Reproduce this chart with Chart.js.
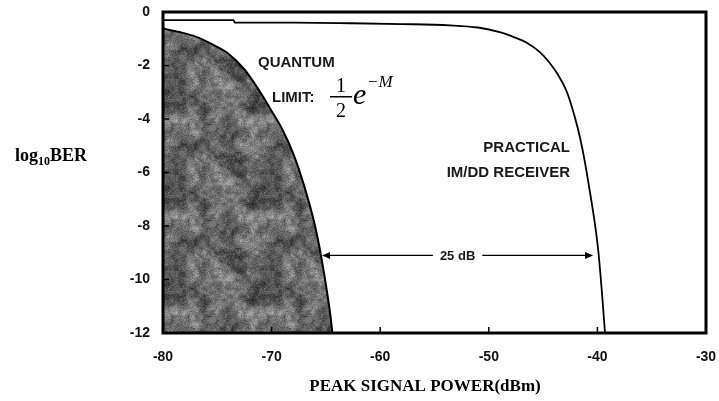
<!DOCTYPE html>
<html>
<head>
<meta charset="utf-8">
<script src="https://cdn.jsdelivr.net/npm/chart.js@4.4.1/dist/chart.umd.min.js"></script>
<style>
  html, body { margin: 0; padding: 0; background: #fff; }
  canvas { display: block; }
</style>
</head>
<body>
<canvas id="berChart" width="719" height="401"></canvas>
<script>
// Axis ticks
const powerTicks = [-80, -70, -60, -50, -40, -30];
const berTicks = [0, -2, -4, -6, -8, -10, -12];

// Quantum limit curve (shaded to the left)
const quantumPower  = [-80, -78.5, -77, -75.5, -74, -72.5, -71.2, -70, -69, -68, -67, -66, -65.5, -65, -64.6, -64.4];
const quantumLogBer = [-0.62, -0.75, -0.92, -1.2, -1.55, -2.15, -2.9, -3.7, -4.4, -5.3, -6.5, -8.0, -9.0, -10.2, -11.3, -12];

// Practical IM/DD receiver curve
const practicalPower  = [-80, -73.5, -73.4, -68, -62.8, -58, -53.6, -51, -49, -47.8, -46.5, -45.3, -44.5, -43.7, -42.8, -42.1, -41.6, -41.2, -40.7, -40.2, -39.9, -39.6, -39.3];
const practicalLogBer = [-0.3, -0.3, -0.4, -0.4, -0.42, -0.45, -0.5, -0.58, -0.75, -0.92, -1.15, -1.5, -1.85, -2.3, -3.0, -3.9, -4.7, -5.5, -6.7, -8.0, -9.0, -10.4, -12];

// 25 dB gap marker
const gapPower = [-65.35, -40.4];
const gapLogBer = -9.1;
const gapLabel = '25 dB';

const toPoints = (xs, ys) => xs.map((x, i) => ({ x: x, y: ys[i] }));

// mottled grey texture for the quantum-limit region
function mottledPattern(ctx) {
    const size = 96;
    const c = document.createElement('canvas');
    c.width = c.height = size;
    const g = c.getContext('2d');
    const img = g.createImageData(size, size);
    const hash = (x, y, s) => {
        let h = (x * 73856093) ^ (y * 19349663) ^ (s * 83492791);
        h = Math.imul(h ^ (h >>> 13), 1274126177);
        h ^= h >>> 16;
        return (h >>> 0) / 4294967296;
    };
    const smooth = (x, y, cell, s) => {
        const n = size / cell;
        const gx = x / cell, gy = y / cell;
        const x0 = Math.floor(gx), y0 = Math.floor(gy);
        const fx = gx - x0, fy = gy - y0;
        const v = (i, j) => hash(i % n, j % n, s);
        const a = v(x0, y0), b = v(x0 + 1, y0), cc = v(x0, y0 + 1), d = v(x0 + 1, y0 + 1);
        const top = a + (b - a) * fx, bot = cc + (d - cc) * fx;
        return top + (bot - top) * fy;
    };
    for (let y = 0; y < size; y++) {
        for (let x = 0; x < size; x++) {
            const n = 0.45 * smooth(x, y, 12, 1) + 0.3 * smooth(x, y, 4, 2) + 0.25 * hash(x, y, 3);
            const v = Math.max(0, Math.min(255, 20 + Math.pow(n, 1.1) * 180));
            const k = (y * size + x) * 4;
            img.data[k] = img.data[k + 1] = img.data[k + 2] = v;
            img.data[k + 3] = 255;
        }
    }
    g.putImageData(img, 0, 0);
    return ctx.createPattern(c, 'repeat');
}

const canvas = document.getElementById('berChart');
const ctx = canvas.getContext('2d');

const decorPlugin = {
    id: 'decor',
    afterDatasetsDraw(chart) {
        const { ctx, chartArea: a, scales: { x, y } } = chart;
        ctx.save();

        // frame
        ctx.strokeStyle = '#000';
        ctx.lineWidth = 3;
        ctx.strokeRect(a.left, a.top, a.right - a.left, a.bottom - a.top);

        // inward tick marks
        ctx.lineWidth = 1.5;
        ctx.beginPath();
        powerTicks.slice(1, -1).forEach(v => {
            const px = x.getPixelForValue(v);
            ctx.moveTo(px, a.bottom);
            ctx.lineTo(px, a.bottom - 6);
        });
        berTicks.slice(1, -1).forEach(v => {
            const py = y.getPixelForValue(v);
            ctx.moveTo(a.left, py);
            ctx.lineTo(a.left + 6, py);
        });
        ctx.stroke();

        // 25 dB double arrow
        const x1 = x.getPixelForValue(gapPower[0]);
        const x2 = x.getPixelForValue(gapPower[1]);
        const ay = y.getPixelForValue(gapLogBer);
        const mid = (x1 + x2) / 2;
        ctx.font = 'bold 13px "Liberation Sans", Arial, sans-serif';
        const half = ctx.measureText(gapLabel).width / 2 + 7;
        ctx.lineWidth = 1.3;
        ctx.beginPath();
        ctx.moveTo(x1 + 2, ay); ctx.lineTo(mid - half, ay);
        ctx.moveTo(mid + half, ay); ctx.lineTo(x2 - 2, ay);
        ctx.stroke();
        ctx.fillStyle = '#000';
        ctx.beginPath();
        ctx.moveTo(x1, ay); ctx.lineTo(x1 + 8, ay - 3.5); ctx.lineTo(x1 + 8, ay + 3.5); ctx.closePath();
        ctx.moveTo(x2, ay); ctx.lineTo(x2 - 8, ay - 3.5); ctx.lineTo(x2 - 8, ay + 3.5); ctx.closePath();
        ctx.fill();
        ctx.fillStyle = '#1a1a1a';
        ctx.textAlign = 'center';
        ctx.textBaseline = 'middle';
        ctx.fillText(gapLabel, mid, ay + 1);

        // curve captions
        ctx.font = 'bold 15px "Liberation Sans", Arial, sans-serif';
        ctx.textAlign = 'left';
        ctx.fillText('QUANTUM', 258, 63);
        ctx.fillText('LIMIT:', 272, 98);
        ctx.textAlign = 'right';
        ctx.fillText('PRACTICAL', 570, 148);
        ctx.fillText('IM/DD RECEIVER', 570, 173);

        // 1/2 e^-M
        ctx.fillStyle = '#000';
        ctx.textAlign = 'center';
        ctx.textBaseline = 'alphabetic';
        ctx.font = '20px "Liberation Serif", "Times New Roman", serif';
        ctx.fillText('1', 341, 92);
        ctx.fillText('2', 341, 117);
        ctx.fillRect(330, 96, 22, 1.5);
        ctx.textAlign = 'left';
        ctx.font = 'italic 30px "Liberation Serif", "Times New Roman", serif';
        ctx.fillText('e', 353, 104);
        ctx.font = 'italic 17px "Liberation Serif", "Times New Roman", serif';
        ctx.fillText('\u2212M', 367, 87);

        ctx.restore();
    },
    afterDraw(chart) {
        const { ctx } = chart;
        ctx.save();
        ctx.fillStyle = '#000';
        ctx.textBaseline = 'alphabetic';
        ctx.textAlign = 'left';
        ctx.font = 'bold 18px "Liberation Serif", "Times New Roman", serif';
        ctx.fillText('log', 15, 161);
        let w = ctx.measureText('log').width;
        ctx.font = 'bold 12px "Liberation Serif", "Times New Roman", serif';
        ctx.fillText('10', 15 + w, 165);
        w += ctx.measureText('10').width;
        ctx.font = 'bold 18px "Liberation Serif", "Times New Roman", serif';
        ctx.fillText('BER', 15 + w, 161);

        ctx.textAlign = 'center';
        ctx.font = 'bold 17px "Liberation Serif", "Times New Roman", serif';
        ctx.fillText('PEAK SIGNAL POWER(dBm)', 425, 391);
        ctx.restore();
    }
};

const tickFont = { family: '"Liberation Sans", Arial, sans-serif', weight: 'bold', size: 14 };

new Chart(ctx, {
    type: 'scatter',
    data: {
        datasets: [
            {
                label: 'Quantum limit',
                data: toPoints(quantumPower, quantumLogBer),
                showLine: true,
                borderColor: '#000',
                borderWidth: 2,
                backgroundColor: mottledPattern(ctx),
                fill: 'start',
                pointRadius: 0,
                cubicInterpolationMode: 'monotone'
            },
            {
                label: 'Practical IM/DD receiver',
                data: toPoints(practicalPower, practicalLogBer),
                showLine: true,
                borderColor: '#000',
                borderWidth: 1.8,
                fill: false,
                pointRadius: 0,
                cubicInterpolationMode: 'monotone'
            }
        ]
    },
    options: {
        responsive: false,
        animation: false,
        layout: { padding: { left: 0, top: 12, right: 13, bottom: 0 } },
        plugins: { legend: { display: false }, tooltip: { enabled: false } },
        scales: {
            x: {
                type: 'linear',
                min: -80,
                max: -30,
                afterBuildTicks: s => { s.ticks = powerTicks.map(v => ({ value: v })); },
                afterFit: s => { s.height = 68; s.paddingLeft = 0; s.paddingRight = 0; },
                grid: { display: false, drawTicks: false },
                border: { display: false },
                ticks: { padding: 16, color: '#111', font: tickFont }
            },
            y: {
                type: 'linear',
                min: -12,
                max: 0,
                afterBuildTicks: s => { s.ticks = berTicks.map(v => ({ value: v })); },
                afterFit: s => { s.width = 163; s.paddingTop = 0; s.paddingBottom = 0; },
                grid: { display: false, drawTicks: false },
                border: { display: false },
                ticks: { padding: 13, color: '#111', font: tickFont }
            }
        }
    },
    plugins: [decorPlugin]
});
</script>
</body>
</html>
